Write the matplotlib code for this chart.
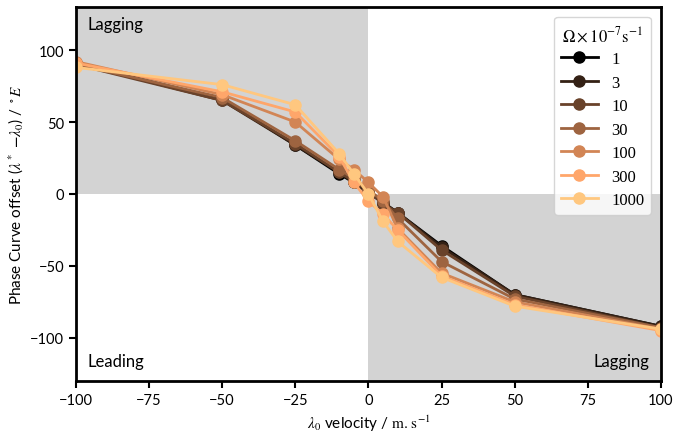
import numpy as np
import matplotlib
matplotlib.use("Agg")
import matplotlib.pyplot as plt

plt.rcParams['font.family'] = ['Lato', 'DejaVu Sans']
plt.rcParams['mathtext.fontset'] = 'stix'

# velocities (m/s) and phase curve offsets (deg E) for each rotation rate
velocity = [-100, -50, -25, -10, -5, 0, 5, 10, 25, 50, 100]
omega_labels = ['1', '3', '10', '30', '100', '300', '1000']

off_1 = [91, 66, 34, 14, 8, 1, -6, -13, -36, -70, -92]
off_3 = [91, 65, 34, 15, 8, 1, -6, -13, -37, -70, -92]
off_10 = [90, 65, 35, 15, 9, 2, -7, -13, -39, -71, -93]
off_30 = [90, 67, 37, 17, 11, 3, -5, -17, -47, -73, -93]
off_100 = [92, 69, 50, 24, 17, 8, -2, -24, -55, -75, -94]
off_300 = [91, 71, 57, 26, 8, -5, -14, -25, -57, -77, -95]
off_1000 = [88, 76, 62, 28, 14, 0, -19, -33, -58, -78, -94]

offsets = [off_1, off_3, off_10, off_30, off_100, off_300, off_1000]

fig = plt.figure(figsize=(6.75, 4.39), dpi=100)
ax = fig.add_axes([0.1126, 0.130, 0.979 - 0.1126, 0.9818 - 0.130])

# shaded quadrants
ax.fill_between([-100, 0], 0, 130, color='lightgrey', lw=0, zorder=0)
ax.fill_between([0, 100], -130, 0, color='lightgrey', lw=0, zorder=0)

colors = plt.cm.copper(np.linspace(0, 1, len(offsets)))
for off, lab, c in zip(offsets, omega_labels, colors):
    ax.plot(velocity, off, '-o', color=c, lw=2, ms=8, label=lab, zorder=2)

ax.set_xlim(-100, 100)
ax.set_ylim(-130, 130)
ax.set_xticks([-100, -75, -50, -25, 0, 25, 50, 75, 100])
ax.set_yticks([-100, -50, 0, 50, 100])
ax.tick_params(labelsize=10.5, width=1.5, length=5)
for s in ax.spines.values():
    s.set_linewidth(2)

ax.set_xlabel(r'$\lambda_0$ velocity / $\mathrm{m.\,s^{-1}}$', fontsize=11)
ax.set_ylabel(r'Phase Curve offset ($\lambda^*$ $\mathbf{-}\lambda_0$) / $^\circ E$', fontsize=11)

ax.text(-96, 118, 'Lagging', fontsize=12, va='center', ha='left')
ax.text(-96, -116, 'Leading', fontsize=12, va='center', ha='left')
ax.text(96, -116, 'Lagging', fontsize=12, va='center', ha='right')

leg = ax.legend(title=r'$\Omega\times10^{-7}\mathrm{s}^{-1}$', loc='upper right',
                prop={'family': 'Liberation Serif', 'size': 12},
                title_fontsize=12, framealpha=0.8, handlelength=2.2,
                labelspacing=0.45, borderaxespad=0.6)
leg.get_frame().set_edgecolor('#cccccc')

fig.savefig('out.png', dpi=100)
